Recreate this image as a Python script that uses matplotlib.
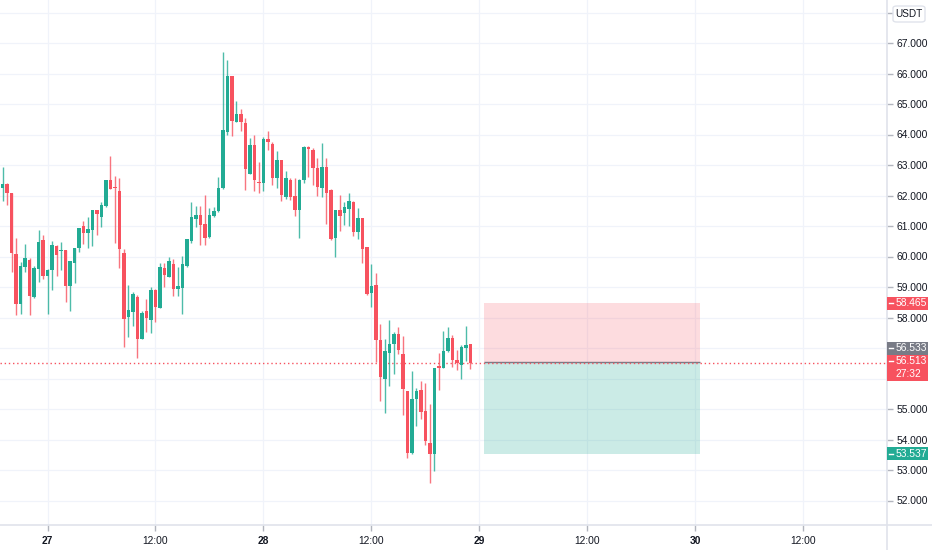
import matplotlib
matplotlib.use("Agg")
import matplotlib.pyplot as plt
from matplotlib.patches import Rectangle, FancyBboxPatch
from matplotlib.lines import Line2D
import numpy as np

plt.rcParams['font.family'] = ['Liberation Sans', 'DejaVu Sans']

# ---------------- data: 30-minute candles, index 0 = day 27 00:00 ----------------
start_index = -10
opens = [62.26, 62.37, 62.08, 60.07, 58.45, 59.66, 59.90, 58.67, 59.60, 60.55,
         59.35, 59.57, 60.33, 60.17, 60.20, 59.02, 59.80, 60.29, 60.99, 60.77,
         60.88, 61.51, 61.30, 61.65, 62.50, 62.27, 62.15, 60.11, 58.02, 58.18,
         58.67, 57.31, 58.21, 57.93, 58.89, 58.30, 59.61, 59.33, 59.77, 58.95,
         58.98, 59.69, 60.50, 61.23, 61.36, 61.05, 60.64, 61.33, 61.49, 62.23,
         64.07, 65.92, 64.42, 64.66, 64.38, 62.72, 63.65, 62.45, 62.40, 63.84,
         63.68, 62.58, 63.16, 61.96, 62.50, 61.98, 61.52, 62.50, 63.60, 63.49,
         62.89, 62.23, 62.92, 62.18, 60.62, 61.54, 61.43, 61.55, 61.79, 60.81,
         61.25, 60.32, 58.79, 59.06, 57.27, 55.99, 56.84, 57.14, 57.47, 56.81,
         55.59, 53.55, 55.34, 55.62, 54.92, 53.90, 53.51, 56.40, 56.36, 56.90,
         57.34, 56.62, 56.44, 56.99, 57.12]
highs = [62.93, 62.40, 62.08, 60.62, 59.82, 60.40, 59.96, 59.70, 60.86, 60.69,
         59.60, 60.51, 60.37, 60.47, 60.20, 59.84, 60.29, 60.95, 61.15, 61.30,
         61.53, 61.53, 61.79, 62.52, 63.29, 62.63, 62.59, 60.24, 59.06, 58.84,
         58.73, 58.22, 58.62, 59.00, 58.95, 59.79, 59.80, 59.97, 59.93, 59.66,
         60.02, 60.58, 61.79, 61.65, 61.65, 62.01, 61.60, 61.63, 62.61, 66.69,
         66.44, 65.92, 65.10, 64.83, 64.55, 63.87, 63.98, 63.11, 63.93, 64.11,
         63.76, 63.45, 63.16, 62.80, 62.59, 62.56, 62.53, 63.62, 63.62, 63.55,
         63.22, 63.71, 63.22, 62.20, 61.54, 62.01, 61.80, 62.07, 61.83, 61.58,
         61.25, 60.32, 59.75, 59.46, 57.80, 57.31, 57.91, 57.53, 57.69, 57.38,
         55.59, 56.25, 55.70, 55.92, 55.84, 55.16, 56.36, 56.82, 57.56, 57.69,
         57.42, 56.95, 57.09, 57.72, 57.12]
lows = [61.82, 61.68, 59.49, 58.07, 58.13, 59.49, 58.09, 58.65, 59.16, 59.27,
        58.13, 58.89, 59.35, 59.56, 58.51, 58.21, 59.13, 60.15, 60.42, 60.28,
        60.33, 60.70, 60.97, 61.63, 62.21, 60.43, 59.62, 57.03, 57.36, 57.71,
        56.66, 57.28, 57.53, 57.49, 57.85, 58.30, 59.00, 59.33, 58.70, 58.70,
        58.10, 59.66, 60.45, 60.97, 60.39, 60.37, 60.61, 61.30, 61.47, 62.20,
        64.00, 63.96, 64.40, 64.12, 62.18, 62.69, 62.14, 62.07, 62.14, 63.49,
        62.36, 62.25, 61.82, 61.88, 61.85, 61.32, 60.62, 62.40, 62.62, 62.34,
        62.00, 61.96, 61.06, 60.53, 59.99, 60.84, 61.03, 61.00, 60.67, 60.59,
        59.79, 58.74, 58.35, 56.54, 55.26, 54.87, 55.74, 56.15, 56.81, 54.79,
        53.40, 53.53, 54.43, 54.68, 53.81, 52.57, 52.98, 55.62, 56.36, 56.88,
        56.37, 56.29, 56.00, 56.57, 56.32]
closes = [62.39, 62.08, 60.11, 58.43, 59.68, 59.95, 58.69, 59.63, 60.48, 59.35,
          59.55, 60.37, 60.06, 60.20, 59.02, 59.84, 60.29, 60.95, 60.77, 60.91,
          61.51, 61.38, 61.68, 62.50, 62.21, 62.24, 60.24, 57.94, 58.26, 58.78,
          57.28, 58.15, 57.98, 58.91, 58.33, 59.67, 59.39, 59.86, 58.95, 59.04,
          59.77, 60.57, 61.30, 61.36, 61.03, 60.61, 61.36, 61.50, 62.25, 64.14,
          65.92, 64.44, 64.66, 64.40, 62.86, 63.65, 62.50, 62.40, 63.84, 63.74,
          62.58, 63.16, 62.01, 62.56, 61.94, 61.52, 62.52, 63.60, 63.53, 62.89,
          62.28, 62.94, 62.09, 60.59, 61.52, 61.32, 61.61, 61.83, 60.81, 61.25,
          60.26, 58.77, 59.04, 57.27, 56.05, 56.90, 57.14, 57.47, 56.92, 55.66,
          53.55, 55.34, 55.58, 54.90, 53.95, 53.51, 56.36, 56.36, 56.90, 57.34,
          56.62, 56.51, 57.02, 57.10, 56.513]

x_tick_pos = [0, 24, 48, 72, 96, 120, 144, 168]
x_tick_labels = ['27', '12:00', '28', '12:00', '29', '12:00', '30', '12:00']
day_labels = ['27', '28', '29', '30']
y_ticks = list(range(52, 69))
hidden_y_labels = [56, 57, 68]

last_price = 56.513
countdown = '27:32'
entry_price = 56.533
stop_price = 58.465
target_price = 53.537
pos_start, pos_end = 97, 145
currency = 'USDT'

# ---------------- style ----------------
UP = '#22ab94'
DOWN = '#f7525f'
GREY = '#787b86'
TXT = '#131722'
GRID = '#f0f3fa'
SEP = '#e0e3eb'

W, H = 932, 550
AX_R, AX_B = 887, 525
fig = plt.figure(figsize=(W / 100, H / 100), dpi=100)
ax = fig.add_axes([0, 1 - AX_B / H, AX_R / W, AX_B / H])
ax.set_xlim(-10.556, 186.56)
ax.set_ylim(67 - 482 / 30.5, 67 + 43 / 30.5)

o = np.array(opens); h = np.array(highs); l = np.array(lows); c = np.array(closes)
x = np.arange(start_index, start_index + len(o))
up = c >= o
cols = np.where(up, UP, DOWN)

ax.vlines(x, l, h, colors=cols, lw=1, alpha=0.8, zorder=3)
bottom = np.minimum(o, c)
height = np.maximum(np.abs(c - o), 0.03)
ax.bar(x, height, bottom=bottom, width=0.68, color=cols, linewidth=0, zorder=4)

# position tool
ax.add_patch(Rectangle((pos_start, entry_price), pos_end - pos_start, stop_price - entry_price,
                       facecolor=DOWN, alpha=0.2, lw=0, zorder=2))
ax.add_patch(Rectangle((pos_start, target_price), pos_end - pos_start, entry_price - target_price,
                       facecolor=UP, alpha=0.23, lw=0, zorder=2))
ax.hlines(entry_price, pos_start, pos_end, color=GREY, lw=1, zorder=2.5)

# current price line
ax.axhline(last_price, color=DOWN, lw=1, ls=(0, (1, 2)), zorder=2.6)

# grid & ticks
ax.set_xticks(x_tick_pos)
ax.set_xticklabels(x_tick_labels)
ax.set_yticks(y_ticks)
ax.set_yticklabels(['' if v in hidden_y_labels else f'{v:.3f}' for v in y_ticks])
ax.yaxis.tick_right()
ax.grid(True, color=GRID, lw=0.9, zorder=0)
ax.set_axisbelow(True)
ax.tick_params(axis='y', direction='out', length=4, width=1, color='#b2b5be',
               labelsize=7.4, labelcolor=TXT, pad=3)
ax.tick_params(axis='x', direction='out', length=4, width=1, color='#b2b5be',
               labelsize=7.4, labelcolor=TXT, pad=4)
for lab in ax.get_xticklabels():
    if lab.get_text() in day_labels:
        lab.set_fontweight('bold')
for s in ax.spines.values():
    s.set_visible(False)

# separators
fig.add_artist(Line2D([0, 1], [1 - AX_B / H] * 2, transform=fig.transFigure, color=SEP, lw=1.2))
fig.add_artist(Line2D([AX_R / W] * 2, [0, 1], transform=fig.transFigure, color=SEP, lw=1.2))


def price_py(p):
    return H - ax.transData.transform((0, p))[1]


def label_box(top_px, lines, color):
    hgt = 13 * len(lines)
    fig.add_artist(Rectangle((AX_R / W, 1 - (top_px + hgt) / H), 41 / W, hgt / H,
                             transform=fig.transFigure, facecolor=color, lw=0, zorder=10))
    fig.add_artist(Line2D([(AX_R + 1.5) / W, (AX_R + 5.5) / W], [1 - (top_px + 6.5) / H] * 2,
                          transform=fig.transFigure, color='white', lw=1, zorder=11))
    for i, t in enumerate(lines):
        fig.text(896 / W, 1 - (top_px + 6.5 + 13 * i) / H, t, color='white', fontsize=7.4,
                 ha='left', va='center', zorder=12)


py_last = price_py(last_price)
label_box(price_py(stop_price) - 6.5, [f'{stop_price:.3f}'], DOWN)
label_box(py_last - 8 - 13, [f'{entry_price:.3f}'], GREY)
label_box(py_last - 8, [f'{last_price:.3f}', countdown], DOWN)
label_box(price_py(target_price) - 6.5, [f'{target_price:.3f}'], UP)

# currency badge
fig.add_artist(FancyBboxPatch((893 / W, 1 - 22 / H), 32 / W, 16 / H,
                              boxstyle='round,pad=0,rounding_size=0.004',
                              transform=fig.transFigure, facecolor='white', edgecolor=SEP, lw=1))
fig.text(909 / W, 1 - 14 / H, currency, fontsize=7.2, color=TXT, ha='center', va='center')

fig.savefig('out.png', dpi=100)
